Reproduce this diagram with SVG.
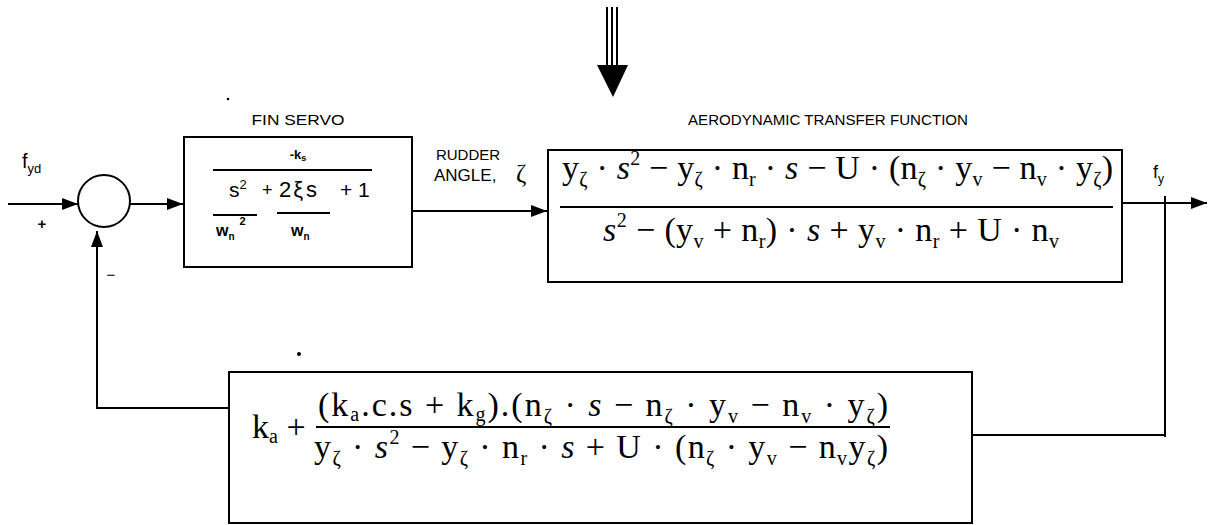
<svg xmlns="http://www.w3.org/2000/svg" width="1208" height="525" viewBox="0 0 1208 525">
<style>
.box{fill:none;stroke:#000;stroke-width:2}
.ln{fill:none;stroke:#000;stroke-width:2}
.sans{font-family:"Liberation Sans",Arial,sans-serif;fill:#000}
.m{font-family:"Liberation Serif","Times New Roman",serif;font-size:34px;fill:#000}
.it{font-style:italic}
.sb{font-size:20px}
</style>
<defs>
<marker id="ah" viewBox="0 0 16 12" refX="16" refY="6" markerWidth="16" markerHeight="12" markerUnits="userSpaceOnUse" orient="auto">
<path d="M0,0 L16,6 L0,12 Z" fill="#000"/>
</marker>
</defs>
<rect width="1208" height="525" fill="#fff"/>

<g id="disturbance">
<line class="ln" x1="607" y1="7" x2="607" y2="68" stroke-width="2.5"/>
<line class="ln" x1="612" y1="7" x2="612" y2="68" stroke-width="2.5"/>
<line class="ln" x1="617" y1="7" x2="617" y2="68" stroke-width="2.5"/>
<path d="M597,65 L628,65 L613,97 Z" fill="#000"/>
</g>

<g id="sum">
<circle cx="104" cy="201" r="26" fill="none" stroke="#000" stroke-width="2"/>
<text class="sans" x="42" y="229" font-size="15" font-weight="bold" text-anchor="middle">+</text>
<text class="sans" x="111" y="280" font-size="15" text-anchor="middle">−</text>
</g>

<g id="fin-servo">
<text class="sans" x="298" y="125" font-size="15" text-anchor="middle" textLength="93" lengthAdjust="spacingAndGlyphs">FIN SERVO</text>
<rect class="box" x="184" y="137" width="228" height="130"/>
<text class="sans" x="298" y="159" font-size="13" text-anchor="middle" font-weight="bold">-k<tspan font-size="9" dy="2">s</tspan></text>
<line class="ln" x1="213" y1="170" x2="372" y2="170"/>
<text class="sans" x="229" y="197" font-size="21">s<tspan font-size="13" dy="-8">2</tspan></text>
<text class="sans" x="262" y="196" font-size="18">+</text>
<text class="sans" x="279" y="197" font-size="22">2<tspan dx="2">ξ</tspan><tspan dx="3">s</tspan></text>
<text class="sans" x="340" y="197" font-size="21">+ 1</text>
<line class="ln" x1="213" y1="215" x2="257" y2="215"/>
<line class="ln" x1="277" y1="213" x2="330" y2="213"/>
<text class="sans" x="216" y="236" font-size="16" font-weight="bold">w<tspan font-size="10" dy="4">n</tspan><tspan font-size="11" dy="-15" dx="5">2</tspan></text>
<text class="sans" x="291" y="236" font-size="16" font-weight="bold">w<tspan font-size="10" dy="4">n</tspan></text>
</g>

<g id="rudder-label">
<text class="sans" x="468" y="160" font-size="15" text-anchor="middle">RUDDER</text>
<text class="sans" x="434" y="181" font-size="17">ANGLE,</text>
<text x="516" y="182" font-family="Liberation Serif,serif" font-size="25">ζ</text>
</g>

<g id="aero">
<text class="sans" x="688" y="125" font-size="14" textLength="280" lengthAdjust="spacingAndGlyphs">AERODYNAMIC TRANSFER FUNCTION</text>
<rect class="box" x="548" y="150" width="574" height="132"/>
<text class="m" x="562" y="179" textLength="551" lengthAdjust="spacing">y<tspan class="sb" dy="7">ζ</tspan><tspan dy="-7"> · </tspan><tspan class="it">s</tspan><tspan class="sb" dy="-14">2</tspan><tspan dy="14"> − y</tspan><tspan class="sb" dy="7">ζ</tspan><tspan dy="-7"> · n</tspan><tspan class="sb" dy="7">r</tspan><tspan dy="-7"> · </tspan><tspan class="it">s</tspan><tspan> − U · (n</tspan><tspan class="sb" dy="7">ζ</tspan><tspan dy="-7"> · y</tspan><tspan class="sb" dy="7">v</tspan><tspan dy="-7"> − n</tspan><tspan class="sb" dy="7">v</tspan><tspan dy="-7"> · y</tspan><tspan class="sb" dy="7">ζ</tspan><tspan dy="-7">)</tspan></text>
<line class="ln" x1="560" y1="207" x2="1113" y2="207"/>
<text class="m" x="603" y="241" textLength="456" lengthAdjust="spacing"><tspan class="it">s</tspan><tspan class="sb" dy="-14">2</tspan><tspan dy="14"> − (y</tspan><tspan class="sb" dy="7">v</tspan><tspan dy="-7"> + n</tspan><tspan class="sb" dy="7">r</tspan><tspan dy="-7">) · </tspan><tspan class="it">s</tspan><tspan> + y</tspan><tspan class="sb" dy="7">v</tspan><tspan dy="-7"> · n</tspan><tspan class="sb" dy="7">r</tspan><tspan dy="-7"> + U · n</tspan><tspan class="sb" dy="7">v</tspan></text>
</g>

<g id="feedback">
<rect class="box" x="229" y="372" width="743" height="151"/>
<text class="m" x="252" y="438">k<tspan class="sb" dy="5">a</tspan><tspan dy="-5"> +</tspan></text>
<text class="m" x="318" y="416" textLength="570" lengthAdjust="spacing">(k<tspan class="sb" dy="5">a</tspan><tspan dy="-5">.c.s + k</tspan><tspan class="sb" dy="5">g</tspan><tspan dy="-5">).(n</tspan><tspan class="sb" dy="7">ζ</tspan><tspan dy="-7"> · </tspan><tspan class="it">s</tspan><tspan> − n</tspan><tspan class="sb" dy="7">ζ</tspan><tspan dy="-7"> · y</tspan><tspan class="sb" dy="7">v</tspan><tspan dy="-7"> − n</tspan><tspan class="sb" dy="7">v</tspan><tspan dy="-7"> · y</tspan><tspan class="sb" dy="7">ζ</tspan><tspan dy="-7">)</tspan></text>
<line class="ln" x1="316" y1="427" x2="890" y2="427"/>
<text class="m" x="314" y="458" textLength="574" lengthAdjust="spacing">y<tspan class="sb" dy="7">ζ</tspan><tspan dy="-7"> · </tspan><tspan class="it">s</tspan><tspan class="sb" dy="-14">2</tspan><tspan dy="14"> − y</tspan><tspan class="sb" dy="7">ζ</tspan><tspan dy="-7"> · n</tspan><tspan class="sb" dy="7">r</tspan><tspan dy="-7"> · </tspan><tspan class="it">s</tspan><tspan> + U · (n</tspan><tspan class="sb" dy="7">ζ</tspan><tspan dy="-7"> · y</tspan><tspan class="sb" dy="7">v</tspan><tspan dy="-7"> − n</tspan><tspan class="sb" dy="7">v</tspan><tspan dy="-7">y</tspan><tspan class="sb" dy="7">ζ</tspan><tspan dy="-7">)</tspan></text>
</g>

<g id="labels">
<text x="22" y="168" font-family="Liberation Sans,sans-serif" font-size="20">f<tspan font-size="13" dy="5">yd</tspan></text>
<text x="1153" y="178" font-family="Liberation Sans,sans-serif" font-size="18">f<tspan font-size="12" dy="5">y</tspan></text>
</g>

<g id="connectors">
<line class="ln" x1="8" y1="204" x2="78" y2="204" marker-end="url(#ah)"/>
<line class="ln" x1="130" y1="204" x2="183" y2="204" marker-end="url(#ah)"/>
<line class="ln" x1="412" y1="211" x2="547" y2="211" marker-end="url(#ah)"/>
<line class="ln" x1="1122" y1="203" x2="1207" y2="203" marker-end="url(#ah)"/>
<polyline class="ln" points="1165,196 1165,437"/>
<polyline class="ln" points="972,435 1165,435"/>
<polyline class="ln" points="229,408 97,408 97,231" marker-end="url(#ah)"/>
</g>

<g id="specks">
<circle cx="228" cy="99" r="1.3" fill="#000"/>
<circle cx="299" cy="354" r="2" fill="#000"/>
</g>
</svg>
